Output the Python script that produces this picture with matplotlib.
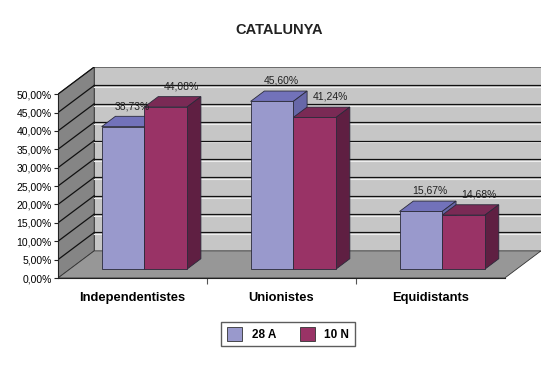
import matplotlib.pyplot as plt
from matplotlib.patches import Patch

# dades
categories = ["Independentistes", "Unionistes", "Equidistants"]
series = ["28 A", "10 N"]
vals_28a = [38.73, 45.60, 15.67]
vals_10n = [44.08, 41.24, 14.68]
yticks = [0, 5, 10, 15, 20, 25, 30, 35, 40, 45, 50]

# colors (cara frontal, superior, lateral)
col_front = ["#9999cc", "#993366"]
col_top = ["#7272ba", "#7a2a55"]
col_side = ["#6767a8", "#5f1f42"]
edge = "#2a2a3a"

def pct(v):
    return f"{v:.2f}%".replace(".", ",")

plt.rcParams["font.family"] = ["Liberation Sans", "DejaVu Sans"]

fig = plt.figure(figsize=(5.6, 3.69), dpi=100)
ax = fig.add_axes([58 / 560, (369 - 278) / 369, (541 - 58) / 560, (278 - 67) / 369])

# profunditat de la perspectiva (en unitats de dades)
D = 0.243   # desplaçament horitzontal
H = 7.38    # desplaçament vertical (en %)
ymax = yticks[-1]
n = len(categories)
x0, x1 = -0.5, n - 0.5

ax.set_xlim(x0, x1 + D)
ax.set_ylim(0, ymax + H)

# -------------------------------------------------------
# parets i terra
# -------------------------------------------------------
ax.fill([x0 + D, x1 + D, x1 + D, x0 + D], [H, H, ymax + H, ymax + H],
        color="#c6c6c6", ec="#555555", lw=0.6, zorder=0)
ax.fill([x0, x0 + D, x0 + D, x0], [0, H, ymax + H, ymax],
        color="#858585", ec="#333333", lw=0.6, zorder=0)
ax.fill([x0, x1, x1 + D, x0 + D], [0, 0, H, H],
        color="#979797", ec="#333333", lw=0.6, zorder=0)

for v in yticks[1:-1]:
    ax.plot([x0 + D, x1 + D], [v + H - 0.5, v + H - 0.5], color="#eeeeee", lw=0.8, zorder=1)
    ax.plot([x0 + D, x1 + D], [v + H, v + H], color="#111111", lw=0.9, zorder=1)
for v in yticks[1:]:
    ax.plot([x0, x0 + D], [v, v + H], color="#111111", lw=0.9, zorder=1)

# -------------------------------------------------------
# barres 3D
# -------------------------------------------------------
f0, f1 = 0.33, 0.71
w = 0.287
fdx, fdy = f0 * D, f0 * H
bdx, bdy = (f1 - f0) * D, (f1 - f0) * H
lab_dx = [0.06, 0.105]   # desplaçament de les etiquetes per sèrie

z = 2
for i in range(n):
    for j, vals in enumerate([vals_28a, vals_10n]):
        v = vals[i]
        left = i - w + j * w + fdx
        right = left + w
        top = v + fdy
        # cara superior
        ax.fill([left, right, right + bdx, left + bdx], [top, top, top + bdy, top + bdy],
                color=col_top[j], ec=edge, lw=0.6, zorder=z)
        # cara lateral
        ax.fill([right, right + bdx, right + bdx, right], [fdy, fdy + bdy, top + bdy, top],
                color=col_side[j], ec=edge, lw=0.6, zorder=z)
        # cara frontal
        ax.bar(left, v, width=w, bottom=fdy, align="edge", color=col_front[j],
               ec=edge, lw=0.6, zorder=z + 0.5)
        ax.text(left + w / 2 + lab_dx[j], top + bdy + 1.4, pct(v), ha="center", va="bottom",
                fontsize=7.5, color="#222222", zorder=10)
        z += 1

# -------------------------------------------------------
# eixos
# -------------------------------------------------------
for s in ["top", "right"]:
    ax.spines[s].set_visible(False)
ax.spines["left"].set_bounds(0, ymax)
ax.spines["bottom"].set_bounds(x0, x1)
ax.spines["left"].set_color("#222222")
ax.spines["bottom"].set_color("#222222")
ax.spines["left"].set_zorder(5)
ax.spines["bottom"].set_zorder(5)

ax.set_yticks(yticks)
ax.set_yticklabels([pct(v) for v in yticks], fontsize=7.5)
ax.tick_params(axis="y", length=3, width=0.8, pad=1.5, color="#222222")

ax.set_xticks(range(n))
ax.set_xticklabels(categories, fontsize=9.3, fontweight="bold")
ax.set_xticks([i + 0.5 for i in range(n - 1)], minor=True)
ax.tick_params(axis="x", which="major", length=0, pad=10)
ax.tick_params(axis="x", which="minor", length=4, width=0.8, color="#555555")

fig.text(279 / 560, 1 - 30 / 369, "CATALUNYA", ha="center", va="center",
         fontsize=10.5, fontweight="bold", color="#222222")

handles = [Patch(facecolor=col_front[k], edgecolor="#333333", lw=0.6) for k in range(2)]
fig.legend(handles, series, loc="center", bbox_to_anchor=(288 / 560, 1 - 334 / 369),
           ncol=2, frameon=True, fancybox=False, edgecolor="#333333",
           prop={"size": 8.5, "weight": "bold"}, handlelength=1.3, handleheight=1.4,
           columnspacing=2.0, handletextpad=0.8, borderpad=0.45)

fig.savefig("out.png", dpi=100)
